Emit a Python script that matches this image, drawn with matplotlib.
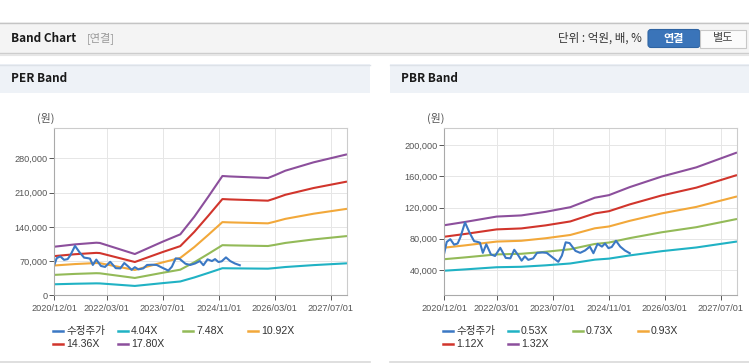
import matplotlib
matplotlib.use('Agg')
import matplotlib.pyplot as plt
import matplotlib.dates as mdates
from matplotlib.patches import Rectangle, FancyBboxPatch
from matplotlib.ticker import FuncFormatter
import pandas as pd

plt.rcParams['font.family'] = ['Liberation Sans', 'Noto Sans CJK KR']

# ---- 수정주가 (одинаковая для обеих диаграмм) ----
price_dates = ['2020-12-01', '2020-12-22', '2021-01-22', '2021-02-24', '2021-03-27',
               '2021-04-20', '2021-05-30', '2021-07-08', '2021-08-17', '2021-09-16',
               '2021-10-07', '2021-11-01', '2021-12-01', '2022-01-10', '2022-02-15',
               '2022-04-01', '2022-05-19', '2022-06-28', '2022-08-01', '2022-09-04',
               '2022-10-04', '2022-11-01', '2022-12-01', '2023-01-13', '2023-02-15',
               '2023-04-01', '2023-05-10', '2023-07-01', '2023-08-19', '2023-09-19',
               '2023-10-22', '2023-11-25', '2024-01-15', '2024-02-25', '2024-04-07',
               '2024-05-19', '2024-06-19', '2024-07-25', '2024-09-01', '2024-09-28',
               '2024-10-28', '2024-11-25', '2025-01-01', '2025-02-07', '2025-03-20',
               '2025-05-01']
price_values = [62000, 76000, 79500, 72500, 74000, 82000, 101000, 88000, 77000, 76000,
                75000, 62000, 73000, 60000, 58000, 68500, 55500, 55000, 66000, 59000,
                52000, 57500, 53000, 55000, 62000, 62500, 62000, 56000, 50500, 58500,
                75500, 74500, 64500, 62000, 65000, 70000, 61500, 73500, 70000, 74000,
                68000, 69500, 77500, 70000, 65000, 61500]

# ---- PER Band ----
per_dates = ['2020-12-01', '2021-06-01', '2021-12-01', '2022-01-01', '2022-11-01',
             '2023-07-01', '2023-12-01', '2024-04-01', '2024-08-01', '2024-12-01',
             '2025-02-01', '2026-01-01', '2026-03-01', '2026-06-01', '2027-02-01',
             '2027-11-19']
per_404 = [22543, 23634, 24402, 24280, 19150, 24886, 28280, 36481, 45773, 55348,
           55146, 54419, 55671, 57812, 61691, 65408]
per_748 = [41738, 43758, 45179, 44955, 35455, 46077, 52360, 67544, 84748, 102476,
           102102, 100756, 103074, 107039, 114220, 121101]
per_1092 = [60934, 63882, 65957, 65629, 51761, 67267, 76440, 98608, 123724, 149604,
            149058, 147092, 150478, 156265, 166748, 176795]
per_1436 = [80129, 84006, 86734, 86304, 68066, 88458, 100520, 129671, 162699, 196732,
            196014, 193429, 197881, 205492, 219277, 232488]
per_1780 = [99324, 104130, 107512, 106978, 84372, 109648, 124600, 160734, 201674, 243860,
            242970, 239766, 245284, 254718, 271806, 288182]
per_labels = ['수정주가', '4.04X', '7.48X', '10.92X', '14.36X', '17.80X']
per_yticks = [0, 70000, 140000, 210000, 280000]

# ---- PBR Band ----
pbr_dates = ['2020-12-01', '2021-06-01', '2022-03-01', '2022-10-01', '2023-05-01',
             '2023-12-01', '2024-07-01', '2024-11-01', '2025-05-01', '2026-02-01',
             '2026-12-01', '2027-11-19']
pbr_053 = [39114, 40810, 43566, 44149, 46004, 48389, 53265, 54590, 58724, 64130, 68900, 76532]
pbr_073 = [53874, 56210, 60006, 60809, 63364, 66649, 73365, 75190, 80884, 88330, 94900, 105412]
pbr_093 = [68634, 71610, 76446, 77469, 80724, 84909, 93465, 95790, 103044, 112530, 120900, 134292]
pbr_112 = [82656, 86240, 92064, 93296, 97216, 102256, 112560, 115360, 124096, 135520, 145600, 161728]
pbr_132 = [97416, 101640, 108504, 109956, 114576, 120516, 132660, 135960, 146256, 159720, 171600, 190608]
pbr_labels = ['수정주가', '0.53X', '0.73X', '0.93X', '1.12X', '1.32X']
pbr_yticks = [40000, 80000, 120000, 160000, 200000]

date_ticks = ['2020-12-01', '2022-03-01', '2023-07-01', '2024-11-01', '2026-03-01', '2027-07-01']

colors = ['#3b78c4', '#20b2c4', '#93ba58', '#f2a83a', '#d1352c', '#8c4f9c']

W, H = 749, 364
KR = ['Noto Sans CJK KR']


def px_rect(x0, y0, x1, y1):
    return [x0 / W, 1 - y1 / H, (x1 - x0) / W, (y1 - y0) / H]


fig = plt.figure(figsize=(W / 100, H / 100), dpi=100)
fig.patch.set_facecolor('white')

# фоновая ось в пикселях для оформления страницы
bg = fig.add_axes([0, 0, 1, 1], zorder=0)
bg.set_xlim(0, W)
bg.set_ylim(H, 0)
bg.axis('off')

# верхняя панель
bg.add_patch(Rectangle((0, 22), W, 31, fc='#f4f4f4', ec='none'))
bg.plot([0, W], [22.5, 22.5], color='#c4c4c4', lw=1)
bg.plot([0, W], [53, 53], color='#cccccc', lw=1)
bg.plot([0, W], [54.5, 54.5], color='#e6e6e6', lw=1.5)
bg.text(11, 38, 'Band Chart', fontsize=8.5, fontweight='bold', color='#1a1a1a',
        va='center', family=KR)
bg.text(87, 38, '[연결]', fontsize=8, color='#999999', va='center', family=KR)
bg.text(642, 38, '단위 : 억원, 배, %', fontsize=8.3, color='#333333', va='center',
        ha='right', family=KR)
bg.add_patch(FancyBboxPatch((648, 29.5), 52, 18, boxstyle='round,pad=0,rounding_size=3',
                            fc='#3a74b9', ec='#2f64a3', lw=0.8))
bg.text(674, 38.5, '연결', fontsize=8, fontweight='bold', color='white',
        va='center', ha='center', family=KR)
bg.add_patch(Rectangle((700, 29.5), 46, 18, fc='#fbfbfb', ec='#c8c8c8', lw=0.8))
bg.text(723, 38.5, '별도', fontsize=8, color='#444444', va='center', ha='center',
        family=KR)

# заголовки панелей
for x0, x1, title in [(0, 370, 'PER Band'), (390, W, 'PBR Band')]:
    bg.add_patch(Rectangle((x0, 64), x1 - x0, 29, fc='#eef2f7', ec='none'))
    bg.plot([x0, x1], [64.5, 64.5], color='#dde2e8', lw=1)
    bg.text(x0 + 11, 79, title, fontsize=8.5, fontweight='bold', color='#1a1a1a',
            va='center', family=KR)
    bg.plot([x0, x1], [362, 362], color='#d9d9d9', lw=1.2)


def draw_band(rect, dates, bands, labels, yticks, ylim, unit_x, legend_x):
    ax = fig.add_axes(px_rect(*rect), zorder=2)
    ax.set_facecolor('white')
    bd = pd.to_datetime(dates)
    for vals, c in zip(bands, colors[1:]):
        ax.plot(bd, vals, color=c, lw=1.5, solid_capstyle='butt')
    ax.plot(pd.to_datetime(price_dates), price_values, color=colors[0], lw=1.5)

    ax.set_xlim(pd.Timestamp('2020-12-01'), pd.Timestamp('2027-11-19'))
    ax.set_ylim(*ylim)
    ax.set_xticks(pd.to_datetime(date_ticks))
    ax.xaxis.set_major_formatter(mdates.DateFormatter('%Y/%m/%d'))
    ax.set_yticks(yticks)
    ax.yaxis.set_major_formatter(FuncFormatter(lambda v, _: f'{v:,.0f}'))
    ax.tick_params(axis='both', labelsize=6.6, colors='#555555', length=3.5, width=0.7,
                   pad=1.5)
    ax.tick_params(axis='x', pad=2.5)
    ax.grid(color='#e6e6e6', lw=0.7)
    ax.set_axisbelow(True)
    for side in ['left', 'bottom']:
        ax.spines[side].set_color('#aaaaaa')
        ax.spines[side].set_linewidth(0.8)
    for side in ['top', 'right']:
        ax.spines[side].set_color('#cccccc')
        ax.spines[side].set_linewidth(0.8)

    bg.text(unit_x, 118, '(원)', fontsize=7.8, color='#555555', va='center', family=KR)

    # легенда: две строки по 4 колонки
    for i, (lab, c) in enumerate(zip(labels, colors)):
        lx = legend_x + (i % 4) * 65
        ly = 331 + (i // 4) * 13
        bg.plot([lx, lx + 10], [ly, ly], color=c, lw=1.8)
        bg.text(lx + 13.5, ly, lab, fontsize=7.6, color='#333333', va='center')
    return ax


draw_band((54.3, 128, 347, 295.3), per_dates,
          [per_404, per_748, per_1092, per_1436, per_1780],
          per_labels, per_yticks, (0, 342000), 37, 52.5)
draw_band((444.3, 128, 737, 295.3), pbr_dates,
          [pbr_053, pbr_073, pbr_093, pbr_112, pbr_132],
          pbr_labels, pbr_yticks, (7600, 222000), 427, 442.5)

fig.savefig('out.png', dpi=100)
plt.close(fig)
